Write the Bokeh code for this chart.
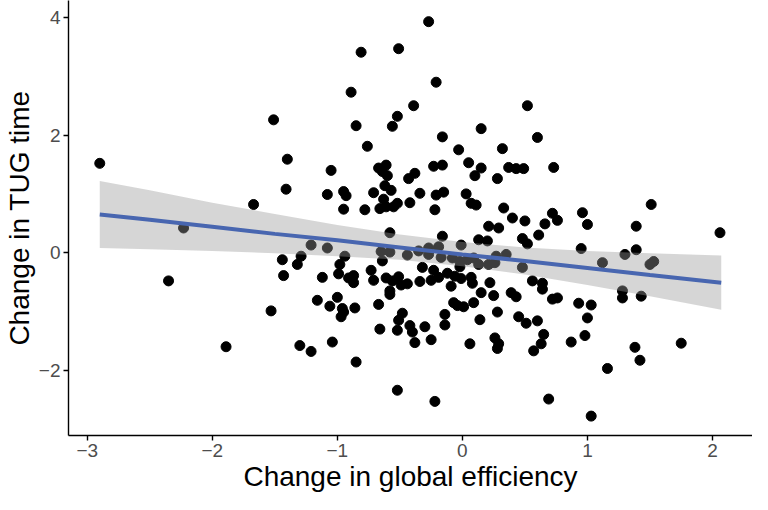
from bokeh.plotting import figure
from bokeh.models import Range1d, FixedTicker
from bokeh.embed import file_html
from bokeh.resources import INLINE

# ---- data ----
left_x = [-2.90, -2.35, -2.23, -1.67, -1.51, -1.40, -1.41, -1.44, -1.43, -1.29, -1.32,
          -1.53, -1.89, -1.30, -1.21, -1.21, -1.08, -1.16, -1.00, -1.06, -1.12, -1.04]
left_y = [1.52, -0.48, 0.42, 0.82, 2.26, 1.59, 1.08, -0.12, -0.39, -0.06, -0.20,
          -0.99, -1.60, -1.58, -1.68, 0.13, 0.08, -0.81, -0.76, -0.91, -0.42, -1.52]

upper_x = [-0.27, -0.81, -0.51, -0.21, -0.89, -0.39, -0.52, -0.56, -0.85, 0.15, -0.16,
           -0.76, -0.03, 0.32, -1.05, 0.05, 0.15, 0.10, 0.37, 0.43, 0.49, 0.28,
           -0.23, -0.16, -0.67, -0.61, -0.64, -0.60, -0.62, -0.57, -0.63, -0.66, -0.61,
           -0.55, -0.52, -0.42, -0.43, -0.38, -0.34, -0.21, -0.15, 0.03, 0.07, 0.11,
           0.33, -0.95, -0.78, -0.71, -0.95, -0.93, -1.08, -0.22, 0.60, 0.52, 0.73,
           0.40, 0.50, 0.21, 0.29, 0.66, 0.72, 0.76, 0.96, 1.00, 1.51, 1.39, 2.06,
           0.61, -0.16, 0.48, 0.52, -0.58, 0.13, 0.20, 0.95, 1.39, 1.30]
upper_y = [3.93, 3.41, 3.47, 2.90, 2.73, 2.50, 2.32, 2.15, 2.16, 2.11, 1.97,
           1.81, 1.75, 1.77, 1.40, 1.53, 1.44, 1.31, 1.45, 1.43, 1.43, 1.26,
           1.47, 1.49, 1.44, 1.49, 1.38, 1.31, 1.14, 1.06, 0.91, 0.75, 0.78,
           0.78, 0.84, 0.85, 1.26, 1.35, 1.01, 0.98, 1.03, 1.00, 0.84, 0.81,
           0.76, 0.74, 0.73, 1.02, 1.04, 0.97, 0.99, 0.73, 1.96, 2.50, 1.45,
           0.59, 0.54, 0.45, 0.42, 0.49, 0.67, 0.55, 0.68, 0.48, 0.82, 0.45, 0.34,
           0.30, 0.28, 0.24, 0.15, 0.34, 0.22, 0.20, 0.07, 0.05, -0.03]

middle_x = [0.27, 0.35, 0.48, 1.12, 1.50, 1.53, -0.65, -0.58, -0.44, -0.35, -0.27,
            -0.27, -0.19, -0.17, -0.01, -0.08, -0.02, 0.04, 0.09, 0.13, 0.21, 0.26, -0.02]
middle_y = [-0.06, -0.03, -0.25, -0.17, -0.20, -0.15, 0.02, 0.01, -0.04, 0.03, 0.08,
            -0.03, 0.10, -0.08, 0.13, -0.09, -0.15, -0.12, -0.09, -0.20, -0.20, -0.17, -0.24]

lower_x = [-0.94, -0.98, -0.99, -0.91, -0.87, -0.87, -0.73, -0.71, -0.64, -0.61, -0.56,
           -0.51, -0.49, -0.44, -0.58, -0.58, -0.32, -0.23, -0.19, -0.25, -0.34, -0.12,
           -0.06, -0.01, -0.09, 0.07, 0.08, 0.22, 0.15, 0.25, 0.09, -0.07, -0.04,
           0.01, -0.14, -0.14, 0.14, 0.28, 0.39, 0.43, 0.56, 0.64, 0.64, 0.72,
           0.76, 1.28, 1.28, 1.43, 0.93, 1.03, 0.45, 0.51, 0.60, 1.00, 0.26,
           0.29, 0.28, 0.65, 0.63, 0.57, 0.87, 0.98, 1.38, 1.42, 1.75, 1.16,
           0.69, 1.03, 0.06, -0.30, -0.42, -0.40, -0.38, -0.25, -0.66, -0.67, -0.48,
           -0.51, -0.52, -0.96, -0.95, -0.97, -0.86, -0.85, -0.52, -0.22]
lower_y = [-0.06, -0.20, -0.36, -0.43, -0.39, -0.51, -0.30, -0.47, -0.14, -0.43, -0.48,
           -0.41, -0.55, -0.53, -0.65, -0.71, -0.25, -0.30, -0.42, -0.47, -0.49, -0.35,
           -0.40, -0.44, -0.57, -0.42, -0.52, -0.51, -0.68, -0.73, -0.85, -0.85, -0.90,
           -0.92, -1.05, -1.23, -1.14, -1.01, -0.68, -0.75, -0.48, -0.52, -0.62, -0.79,
           -0.77, -0.65, -0.77, -0.74, -0.86, -0.89, -1.09, -1.20, -1.16, -1.11, -1.45,
           -1.55, -1.63, -1.39, -1.55, -1.67, -1.52, -1.41, -1.61, -1.83, -1.54, -1.97,
           -2.49, -2.78, -1.55, -1.26, -1.24, -1.35, -1.53, -1.48, -1.30, -0.88, -1.03,
           -1.15, -1.32, -0.95, -1.01, -1.09, -0.94, -1.86, -2.34, -2.53]

# linear fit with its confidence band
fit_x = [-2.90, -2.50, -2.00, -1.50, -1.00, -0.50, 0.00, 0.50, 1.00, 1.50, 2.07]
fit_y = [0.65, 0.56, 0.44, 0.32, 0.21, 0.09, -0.03, -0.14, -0.26, -0.38, -0.51]
band_lo = [0.08, 0.06, 0.03, -0.01, -0.06, -0.12, -0.23, -0.37, -0.55, -0.74, -0.97]
band_hi = [1.22, 1.06, 0.85, 0.66, 0.47, 0.31, 0.18, 0.09, 0.03, -0.01, -0.05]

x_ticks = [-3, -2, -1, 0, 1, 2]
x_tick_labels = ["\u22123", "\u22122", "\u22121", "0", "1", "2"]
y_ticks = [-2, 0, 2, 4]
y_tick_labels = ["\u22122", "0", "2", "4"]

xs = left_x + upper_x + middle_x + lower_x
ys = left_y + upper_y + middle_y + lower_y

FONT = "Liberation Sans"

p = figure(width=752, height=494, output_backend="svg", toolbar_location=None,
           x_range=Range1d(-3.15, 2.32), y_range=Range1d(-3.11, 4.29),
           min_border_left=0, min_border_right=0, min_border_top=0, min_border_bottom=0,
           background_fill_color="white", border_fill_color="white")

p.scatter(xs, ys, size=10, fill_color="black", line_color="black")
p.varea(x=fit_x, y1=band_lo, y2=band_hi, fill_color="#999999", fill_alpha=0.4)
p.line(fit_x, fit_y, line_color="#4866B0", line_width=4)

p.xgrid.visible = False
p.ygrid.visible = False
p.outline_line_color = None

p.xaxis.ticker = FixedTicker(ticks=x_ticks)
p.yaxis.ticker = FixedTicker(ticks=y_ticks)
p.xaxis.major_label_overrides = dict(zip(x_ticks, x_tick_labels))
p.yaxis.major_label_overrides = dict(zip(y_ticks, y_tick_labels))

for ax in (p.xaxis[0], p.yaxis[0]):
    ax.axis_line_color = "black"
    ax.axis_line_width = 1.4
    ax.major_tick_line_color = "black"
    ax.major_tick_line_width = 1.4
    ax.major_tick_out = 5
    ax.major_tick_in = 0
    ax.minor_tick_line_color = None
    ax.major_label_text_color = "#4D4D4D"
    ax.major_label_text_font = FONT
    ax.major_label_text_font_size = "19px"
    ax.major_label_text_line_height = 1.0
    ax.axis_label_text_font = FONT
    ax.axis_label_text_font_size = "28px"
    ax.axis_label_text_font_style = "normal"
    ax.axis_label_text_color = "black"
    ax.axis_label_text_line_height = 0.95
    ax.major_label_standoff = 3
    ax.axis_label_standoff = 1

p.xaxis.axis_label = "Change in global efficiency"
p.yaxis.axis_label = "Change in TUG time"
p.yaxis.major_label_orientation = "horizontal"

open("out.html", "w").write(file_html(p, INLINE))
